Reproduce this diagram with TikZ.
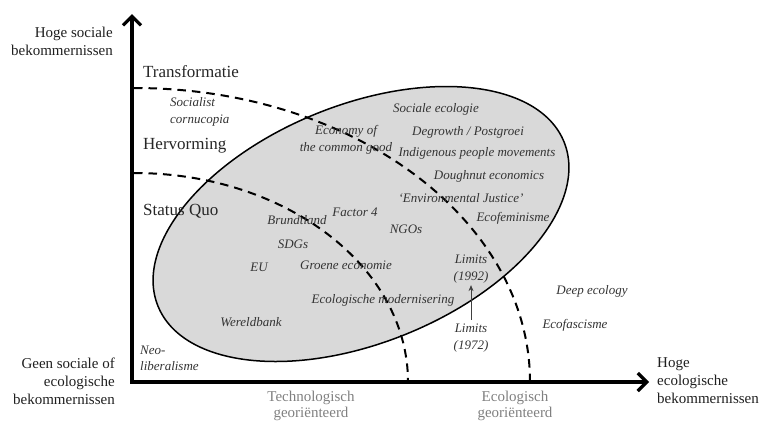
\documentclass[tikz,border=0pt]{standalone}
\usepackage{fontspec}
\setmainfont{Liberation Serif}
\usetikzlibrary{arrows.meta}
\definecolor{ellfill}{HTML}{D9D9D9}
\definecolor{lbl}{HTML}{333333}
\definecolor{orient}{HTML}{808080}
\begin{document}
\begin{tikzpicture}[x=1pt,y=-1pt,
  axislbl/.style={font=\fontsize{15}{18}\selectfont, text=black!88, inner sep=0},
  stage/.style={font=\fontsize{17}{20}\selectfont, text=black!85, inner sep=0, anchor=west},
  item/.style={font=\fontsize{13}{16.5}\selectfont\itshape, text=lbl, inner sep=0, align=center},
  orientlbl/.style={font=\fontsize{15}{15.5}\selectfont, text=orient, inner sep=0, align=center},
  border/.style={line width=2pt, dash pattern=on 8.5pt off 6pt},
  axisline/.style={line width=3.2pt, {Straight Barb[length=9pt,width=18pt]}-{Straight Barb[length=9pt,width=18pt]}}
]
\useasboundingbox (0,0) rectangle (760,421);
% ellipse of positions
\draw[fill=ellfill, line width=1.5pt] (361,224) ellipse[x radius=219pt, y radius=119pt, rotate=22];
% dashed boundaries
\draw[border] (134,173) arc[start angle=90, end angle=0, x radius=274pt, y radius=209pt];
\draw[border] (134,88) arc[start angle=90, end angle=0, x radius=396pt, y radius=294pt];
% axes
\coordinate (ytop) at (132,14);
\coordinate (orig) at (132,382);
\coordinate (xend) at (649,382);
\draw[axisline] (ytop) -- (orig) -- (xend);
% axis labels
\node[axislbl, anchor=east, align=right] (ysoc) at (113,41) {Hoge sociale\\bekommernissen};
\node[axislbl, anchor=east, align=right] (none) at (115,381) {Geen sociale of\\ecologische\\bekommernissen};
\node[axislbl, anchor=west, align=left] (xeco) at (657,381) {Hoge\\ecologische\\bekommernissen};
\node[orientlbl] (tech) at (311,406) {Technologisch\\georiënteerd};
\node[orientlbl] (ecol) at (515,406) {Ecologisch\\georiënteerd};
% stages
\node[stage] (transf) at (143,72) {Transformatie};
\node[stage] (herv) at (143,146) {Hervorming};
\node[stage] (sq) at (143,211) {Status Quo};
% items
\node[item, align=left, anchor=west] (soccorn) at (170,112) {Socialist\\cornucopia};
\node[item] (ecg) at (346,140) {Economy of\\the common good};
\node[item] (socec) at (436,109) {Sociale ecologie};
\node[item] (degr) at (468,132) {Degrowth / Postgroei};
\node[item] (indig) at (477,153) {Indigenous people movements};
\node[item] (dough) at (489,176) {Doughnut economics};
\node[item] (envj) at (461,198) {‘Environmental Justice’};
\node[item] (f4) at (355,212) {Factor 4};
\node[item] (brund) at (297,220) {Brundtland};
\node[item] (ngo) at (406,229) {NGOs};
\node[item] (ecofem) at (513,218) {Ecofeminisme};
\node[item] (sdg) at (293,244) {SDGs};
\node[item] (eu) at (259,267) {EU};
\node[item] (groen) at (346,265) {Groene economie};
\node[item] (l92) at (471,269) {Limits\\(1992)};
\node[item] (ecomod) at (383,300) {Ecologische modernisering};
\node[item] (wb) at (251,322) {Wereldbank};
\node[item] (l72) at (471,338) {Limits\\(1972)};
\node[item] (deep) at (592,291) {Deep ecology};
\node[item] (fasc) at (575,325) {Ecofascisme};
\node[item, align=left, anchor=west] (neo) at (140,358.5) {Neo-\\liberalisme};
% limits arrow
\draw[black!75, line width=0.8pt, -{Stealth[length=6pt,width=5pt]}, shorten <=4pt, shorten >=2pt] (l72.north) -- (l92.south);
\end{tikzpicture}
\end{document}
